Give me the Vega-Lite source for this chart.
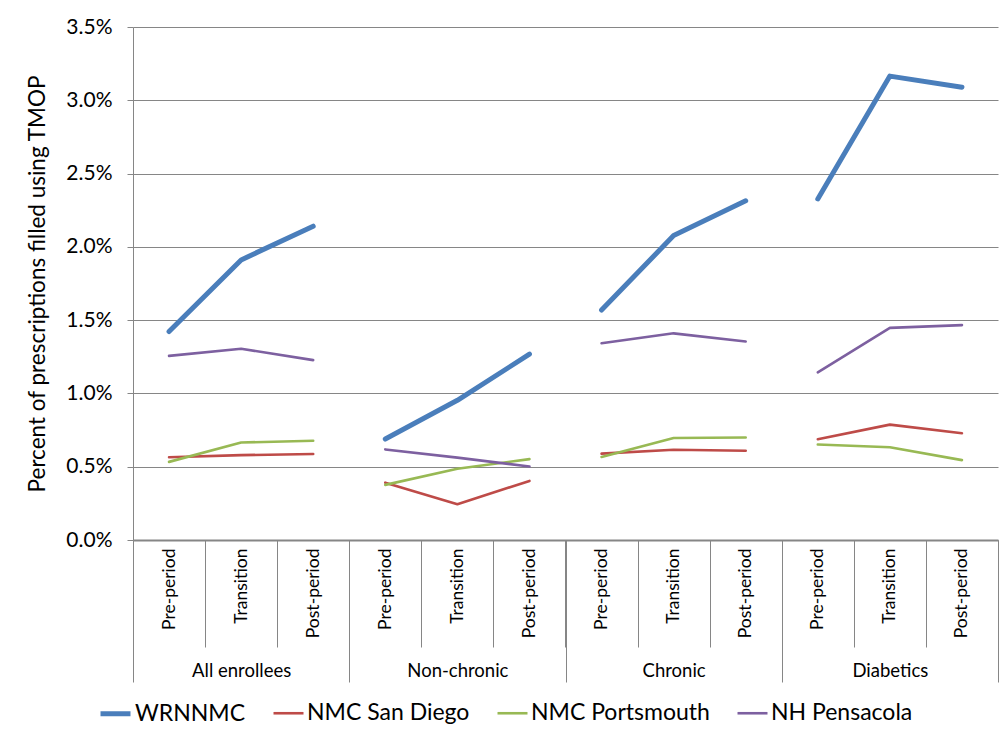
{
  "$schema": "https://vega.github.io/schema/vega-lite/v6.json",
  "autosize": "none",
  "width": 865,
  "height": 513,
  "padding": {"left": 133, "top": 27, "right": 5, "bottom": 192},
  "background": "white",
  "config": {
    "font": "Lato",
    "view": {"stroke": null},
    "axis": {"labelColor": "#000000", "titleColor": "#000000", "labelFont": "Lato", "titleFont": "Lato"},
    "legend": {"labelFont": "Lato"}
  },
  "datasets": {
    "rates": [
      {"group": "All enrollees", "period": "Pre-period", "step": 1, "slot": "All enrollees|Pre-period", "series": "WRNNMC", "value": 0.01422},
      {"group": "All enrollees", "period": "Transition", "step": 2, "slot": "All enrollees|Transition", "series": "WRNNMC", "value": 0.01911},
      {"group": "All enrollees", "period": "Post-period", "step": 3, "slot": "All enrollees|Post-period", "series": "WRNNMC", "value": 0.02141},
      {"group": "Non-chronic", "period": "Pre-period", "step": 1, "slot": "Non-chronic|Pre-period", "series": "WRNNMC", "value": 0.00689},
      {"group": "Non-chronic", "period": "Transition", "step": 2, "slot": "Non-chronic|Transition", "series": "WRNNMC", "value": 0.00953},
      {"group": "Non-chronic", "period": "Post-period", "step": 3, "slot": "Non-chronic|Post-period", "series": "WRNNMC", "value": 0.01268},
      {"group": "Chronic", "period": "Pre-period", "step": 1, "slot": "Chronic|Pre-period", "series": "WRNNMC", "value": 0.01569},
      {"group": "Chronic", "period": "Transition", "step": 2, "slot": "Chronic|Transition", "series": "WRNNMC", "value": 0.02077},
      {"group": "Chronic", "period": "Post-period", "step": 3, "slot": "Chronic|Post-period", "series": "WRNNMC", "value": 0.02314},
      {"group": "Diabetics", "period": "Pre-period", "step": 1, "slot": "Diabetics|Pre-period", "series": "WRNNMC", "value": 0.02327},
      {"group": "Diabetics", "period": "Transition", "step": 2, "slot": "Diabetics|Transition", "series": "WRNNMC", "value": 0.03165},
      {"group": "Diabetics", "period": "Post-period", "step": 3, "slot": "Diabetics|Post-period", "series": "WRNNMC", "value": 0.03089},

      {"group": "All enrollees", "period": "Pre-period", "step": 1, "slot": "All enrollees|Pre-period", "series": "NMC San Diego", "value": 0.00565},
      {"group": "All enrollees", "period": "Transition", "step": 2, "slot": "All enrollees|Transition", "series": "NMC San Diego", "value": 0.00579},
      {"group": "All enrollees", "period": "Post-period", "step": 3, "slot": "All enrollees|Post-period", "series": "NMC San Diego", "value": 0.00587},
      {"group": "Non-chronic", "period": "Pre-period", "step": 1, "slot": "Non-chronic|Pre-period", "series": "NMC San Diego", "value": 0.00391},
      {"group": "Non-chronic", "period": "Transition", "step": 2, "slot": "Non-chronic|Transition", "series": "NMC San Diego", "value": 0.00244},
      {"group": "Non-chronic", "period": "Post-period", "step": 3, "slot": "Non-chronic|Post-period", "series": "NMC San Diego", "value": 0.00403},
      {"group": "Chronic", "period": "Pre-period", "step": 1, "slot": "Chronic|Pre-period", "series": "NMC San Diego", "value": 0.00589},
      {"group": "Chronic", "period": "Transition", "step": 2, "slot": "Chronic|Transition", "series": "NMC San Diego", "value": 0.00616},
      {"group": "Chronic", "period": "Post-period", "step": 3, "slot": "Chronic|Post-period", "series": "NMC San Diego", "value": 0.00609},
      {"group": "Diabetics", "period": "Pre-period", "step": 1, "slot": "Diabetics|Pre-period", "series": "NMC San Diego", "value": 0.00687},
      {"group": "Diabetics", "period": "Transition", "step": 2, "slot": "Diabetics|Transition", "series": "NMC San Diego", "value": 0.00787},
      {"group": "Diabetics", "period": "Post-period", "step": 3, "slot": "Diabetics|Post-period", "series": "NMC San Diego", "value": 0.00728},

      {"group": "All enrollees", "period": "Pre-period", "step": 1, "slot": "All enrollees|Pre-period", "series": "NMC Portsmouth", "value": 0.00533},
      {"group": "All enrollees", "period": "Transition", "step": 2, "slot": "All enrollees|Transition", "series": "NMC Portsmouth", "value": 0.00665},
      {"group": "All enrollees", "period": "Post-period", "step": 3, "slot": "All enrollees|Post-period", "series": "NMC Portsmouth", "value": 0.00677},
      {"group": "Non-chronic", "period": "Pre-period", "step": 1, "slot": "Non-chronic|Pre-period", "series": "NMC Portsmouth", "value": 0.00376},
      {"group": "Non-chronic", "period": "Transition", "step": 2, "slot": "Non-chronic|Transition", "series": "NMC Portsmouth", "value": 0.00486},
      {"group": "Non-chronic", "period": "Post-period", "step": 3, "slot": "Non-chronic|Post-period", "series": "NMC Portsmouth", "value": 0.00552},
      {"group": "Chronic", "period": "Pre-period", "step": 1, "slot": "Chronic|Pre-period", "series": "NMC Portsmouth", "value": 0.00567},
      {"group": "Chronic", "period": "Transition", "step": 2, "slot": "Chronic|Transition", "series": "NMC Portsmouth", "value": 0.00696},
      {"group": "Chronic", "period": "Post-period", "step": 3, "slot": "Chronic|Post-period", "series": "NMC Portsmouth", "value": 0.00699},
      {"group": "Diabetics", "period": "Pre-period", "step": 1, "slot": "Diabetics|Pre-period", "series": "NMC Portsmouth", "value": 0.00652},
      {"group": "Diabetics", "period": "Transition", "step": 2, "slot": "Diabetics|Transition", "series": "NMC Portsmouth", "value": 0.00633},
      {"group": "Diabetics", "period": "Post-period", "step": 3, "slot": "Diabetics|Post-period", "series": "NMC Portsmouth", "value": 0.00545},

      {"group": "All enrollees", "period": "Pre-period", "step": 1, "slot": "All enrollees|Pre-period", "series": "NH Pensacola", "value": 0.01256},
      {"group": "All enrollees", "period": "Transition", "step": 2, "slot": "All enrollees|Transition", "series": "NH Pensacola", "value": 0.01305},
      {"group": "All enrollees", "period": "Post-period", "step": 3, "slot": "All enrollees|Post-period", "series": "NH Pensacola", "value": 0.01227},
      {"group": "Non-chronic", "period": "Pre-period", "step": 1, "slot": "Non-chronic|Pre-period", "series": "NH Pensacola", "value": 0.00618},
      {"group": "Non-chronic", "period": "Transition", "step": 2, "slot": "Non-chronic|Transition", "series": "NH Pensacola", "value": 0.00562},
      {"group": "Non-chronic", "period": "Post-period", "step": 3, "slot": "Non-chronic|Post-period", "series": "NH Pensacola", "value": 0.00501},
      {"group": "Chronic", "period": "Pre-period", "step": 1, "slot": "Chronic|Pre-period", "series": "NH Pensacola", "value": 0.01342},
      {"group": "Chronic", "period": "Transition", "step": 2, "slot": "Chronic|Transition", "series": "NH Pensacola", "value": 0.01410},
      {"group": "Chronic", "period": "Post-period", "step": 3, "slot": "Chronic|Post-period", "series": "NH Pensacola", "value": 0.01354},
      {"group": "Diabetics", "period": "Pre-period", "step": 1, "slot": "Diabetics|Pre-period", "series": "NH Pensacola", "value": 0.01144},
      {"group": "Diabetics", "period": "Transition", "step": 2, "slot": "Diabetics|Transition", "series": "NH Pensacola", "value": 0.01447},
      {"group": "Diabetics", "period": "Post-period", "step": 3, "slot": "Diabetics|Post-period", "series": "NH Pensacola", "value": 0.01466}
    ],
    "groups": [
      {"group": "All enrollees"},
      {"group": "Non-chronic"},
      {"group": "Chronic"},
      {"group": "Diabetics"}
    ]
  },
  "layer": [
    {
      "data": {"name": "rates"},
      "mark": {"type": "line", "strokeCap": "round", "strokeJoin": "round"},
      "encoding": {
        "x": {
          "field": "slot",
          "type": "nominal",
          "scale": {
            "type": "band",
            "paddingInner": 0,
            "paddingOuter": 0,
            "domain": [
              "All enrollees|Pre-period", "All enrollees|Transition", "All enrollees|Post-period",
              "Non-chronic|Pre-period", "Non-chronic|Transition", "Non-chronic|Post-period",
              "Chronic|Pre-period", "Chronic|Transition", "Chronic|Post-period",
              "Diabetics|Pre-period", "Diabetics|Transition", "Diabetics|Post-period"
            ]
          },
          "axis": {
            "title": null,
            "labelExpr": "split(datum.value, '|')[1]",
            "labelAngle": -90,
            "labelFontSize": 17.5,
            "labelPadding": -99,
            "tickBand": "extent",
            "tickSize": 107,
            "tickColor": "#868686",
            "tickWidth": 1,
            "domainColor": "#868686",
            "domainWidth": 2,
            "grid": false
          }
        },
        "y": {
          "field": "value",
          "type": "quantitative",
          "scale": {"domain": [0, 0.035], "nice": false},
          "axis": {
            "title": "Percent of prescriptions filled using TMOP",
            "titleFontSize": 22.5,
            "titleFontWeight": "normal",
            "titleBaseline": "middle",
            "titleX": -96,
            "values": [0, 0.005, 0.01, 0.015, 0.02, 0.025, 0.03, 0.035],
            "format": ".1%",
            "labelFontSize": 21,
            "labelPadding": 15,
            "tickSize": 6,
            "tickColor": "#868686",
            "domainColor": "#868686",
            "gridColor": "#868686",
            "gridWidth": 1,
            "grid": true
          }
        },
        "detail": {"field": "group"},
        "order": {"field": "step", "type": "quantitative"},
        "color": {
          "field": "series",
          "type": "nominal",
          "scale": {
            "domain": ["WRNNMC", "NMC San Diego", "NMC Portsmouth", "NH Pensacola"],
            "range": ["#4A7EBB", "#BE4B48", "#98B954", "#7D60A0"]
          },
          "legend": {
            "title": null,
            "orient": "none",
            "direction": "horizontal",
            "legendX": -35,
            "legendY": 669,
            "labelFontSize": 23,
            "labelColor": "#000000",
            "labelLimit": 400,
            "labelOffset": 2,
            "columnPadding": 22,
            "symbolType": "stroke",
            "symbolSize": 900,
            "symbolStrokeWidth": 3
          }
        },
        "strokeWidth": {
          "field": "series",
          "type": "nominal",
          "scale": {
            "type": "ordinal",
            "domain": ["WRNNMC", "NMC San Diego", "NMC Portsmouth", "NH Pensacola"],
            "range": [5, 2.6, 2.6, 2.6]
          },
          "legend": null
        }
      }
    },
    {
      "data": {"name": "groups"},
      "mark": {"type": "rule", "opacity": 0},
      "encoding": {
        "x": {
          "field": "group",
          "type": "nominal",
          "scale": {
            "type": "band",
            "paddingInner": 0,
            "paddingOuter": 0,
            "domain": ["All enrollees", "Non-chronic", "Chronic", "Diabetics"]
          },
          "axis": {
            "title": null,
            "orient": "bottom",
            "labelAngle": 0,
            "labelFontSize": 18.5,
            "labelPadding": -12,
            "labelBaseline": "middle",
            "tickBand": "extent",
            "tickSize": 142,
            "tickColor": "#868686",
            "tickWidth": 1,
            "domain": false,
            "grid": false
          }
        }
      }
    }
  ],
  "resolve": {"scale": {"x": "independent"}, "axis": {"x": "independent"}}
}
